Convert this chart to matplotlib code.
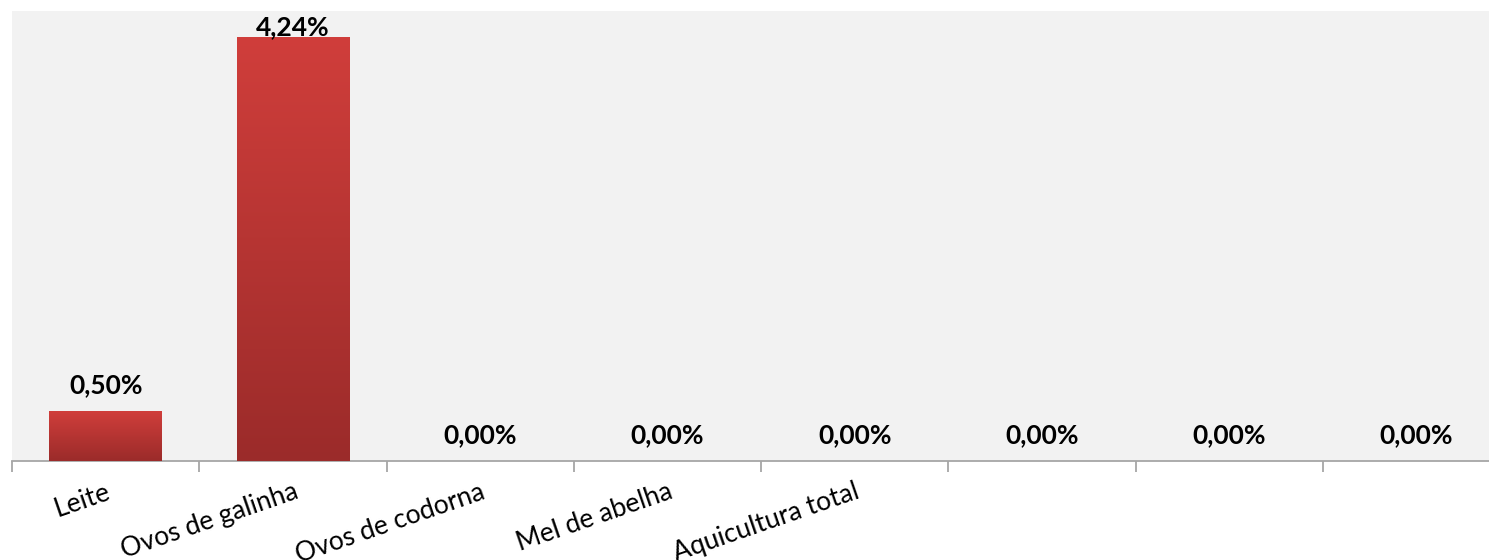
import numpy as np
import matplotlib.pyplot as plt
from matplotlib.colors import LinearSegmentedColormap

categorias = ['Leite', 'Ovos de galinha', 'Ovos de codorna', 'Mel de abelha',
              'Aquicultura total', '', '', '']
valores = [0.50, 4.24, 0.00, 0.00, 0.00, 0.00, 0.00, 0.00]
rotulos = ['0,50%', '4,24%', '0,00%', '0,00%', '0,00%', '0,00%', '0,00%', '0,00%']

plt.rcParams['font.family'] = ['Lato', 'DejaVu Sans']

fig = plt.figure(figsize=(14.89, 5.6), dpi=100)
# eixo ligeiramente mais largo que a figura (o original está cortado à direita)
ax = fig.add_axes([12 / 1489, 99 / 560, 1498 / 1489, 450 / 560])
ax.set_facecolor('#f2f2f2')

x = np.arange(len(categorias))
barras = ax.bar(x, valores, width=0.6, color='#c0393a', zorder=2)

# gradiente vertical dentro de cada barra
cmap = LinearSegmentedColormap.from_list('verm', ['#9b2b2a', '#d03e3b'])
grad = np.linspace(0, 1, 256).reshape(-1, 1)
for b in barras:
    if b.get_height() <= 0:
        continue
    x0, w, h = b.get_x(), b.get_width(), b.get_height()
    im = ax.imshow(grad, cmap=cmap, origin='lower', aspect='auto',
                   extent=[x0, x0 + w, 0, h], zorder=3)
    im.set_clip_path(b)

ax.set_xlim(-0.5, len(categorias) - 0.5)
ax.set_ylim(0, 4.5)

for xi, v, r in zip(x, valores, rotulos):
    ax.text(xi, min(v + 0.26, 4.34), r, ha='center', va='center',
            fontsize=19, fontweight='bold', color='black', zorder=4)

for s in ['top', 'right', 'left']:
    ax.spines[s].set_visible(False)
ax.spines['bottom'].set_color('#a6a6a6')
ax.spines['bottom'].set_linewidth(1.3)
ax.set_yticks([])

ax.set_xticks(np.arange(-0.5, len(categorias), 1.0))
ax.set_xticklabels([])
ax.tick_params(axis='x', which='major', length=8, color='#a6a6a6', width=1.3)
ax.set_xticks(x, minor=True)
ax.set_xticklabels(categorias, minor=True, rotation=19, ha='right',
                   rotation_mode='anchor', fontsize=19)
ax.tick_params(axis='x', which='minor', length=0, pad=13)

fig.savefig('out.png', dpi=100)
